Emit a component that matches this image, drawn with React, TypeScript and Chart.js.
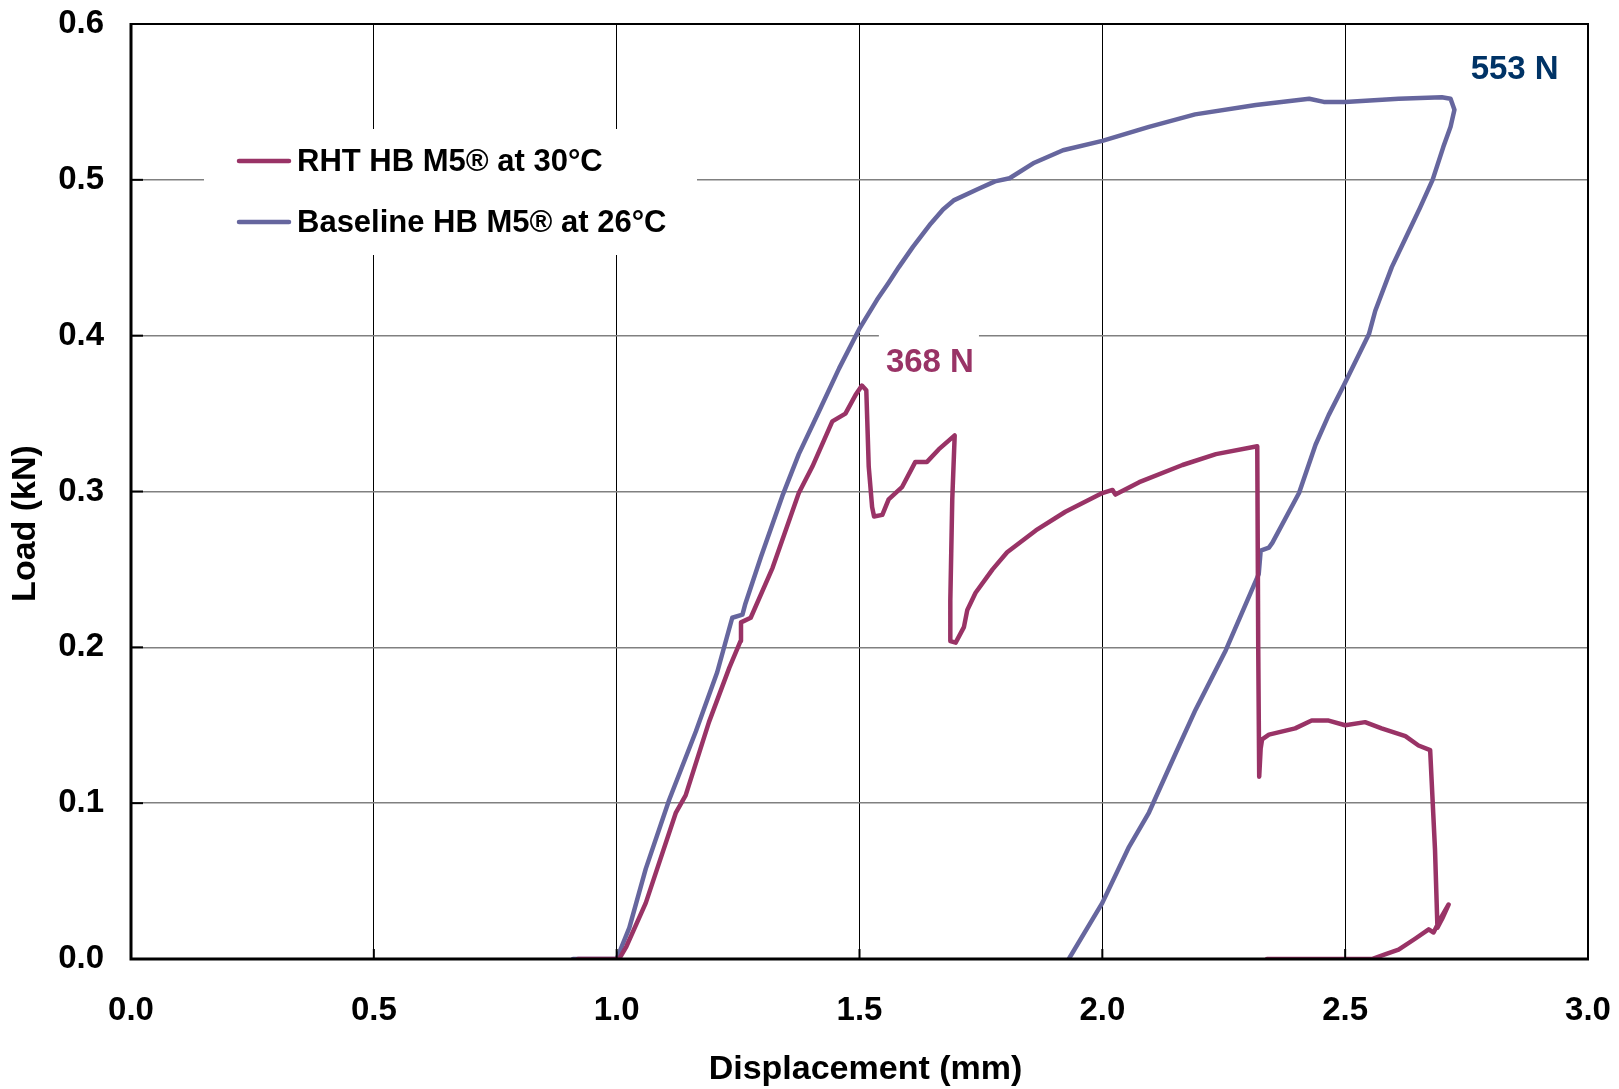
import React, { useEffect, useRef } from "react";
import { Chart, registerables } from "chart.js";

Chart.register(...registerables);

// ---- Data ----
const seriesLabels = ["RHT HB M5\u00AE at 30\u00B0C", "Baseline HB M5\u00AE at 26\u00B0C"];
const seriesColors = ["#993366", "#66669E"];

const rhtX = [0.92, 1.005, 1.02, 1.06, 1.122, 1.142, 1.19, 1.232, 1.255, 1.256, 1.276, 1.321, 1.375, 1.403, 1.444, 1.471, 1.492, 1.505, 1.514, 1.519, 1.526, 1.530, 1.547, 1.560, 1.588, 1.615, 1.639, 1.663, 1.696, 1.691, 1.687, 1.687, 1.698, 1.715, 1.722, 1.739, 1.774, 1.804, 1.863, 1.924, 2.0, 2.021, 2.027, 2.076, 2.165, 2.234, 2.319, 2.321, 2.323, 2.326, 2.329, 2.343, 2.397, 2.431, 2.466, 2.5, 2.541, 2.575, 2.624, 2.651, 2.675, 2.685, 2.690, 2.700, 2.713, 2.700, 2.682, 2.672, 2.644, 2.610, 2.582, 2.555, 2.339];
const rhtY = [0, 0, 0.008, 0.036, 0.094, 0.105, 0.152, 0.187, 0.204, 0.216, 0.219, 0.251, 0.299, 0.316, 0.345, 0.350, 0.362, 0.368, 0.365, 0.316, 0.290, 0.284, 0.285, 0.295, 0.303, 0.319, 0.319, 0.327, 0.336, 0.295, 0.230, 0.204, 0.203, 0.213, 0.224, 0.235, 0.250, 0.261, 0.275, 0.287, 0.299, 0.301, 0.298, 0.306, 0.317, 0.324, 0.329, 0.200, 0.117, 0.135, 0.141, 0.144, 0.148, 0.153, 0.153, 0.150, 0.152, 0.148, 0.143, 0.137, 0.134, 0.070, 0.020, 0.026, 0.035, 0.028, 0.017, 0.019, 0.013, 0.006, 0.003, 0, 0];

const baseX = [0.91, 1.0, 1.026, 1.06, 1.108, 1.163, 1.207, 1.238, 1.259, 1.265, 1.297, 1.341, 1.375, 1.416, 1.458, 1.499, 1.536, 1.560, 1.581, 1.610, 1.647, 1.672, 1.695, 1.743, 1.779, 1.809, 1.860, 1.919, 2.0, 2.096, 2.191, 2.316, 2.426, 2.456, 2.5, 2.610, 2.699, 2.717, 2.725, 2.717, 2.702, 2.680, 2.654, 2.625, 2.596, 2.562, 2.549, 2.497, 2.466, 2.439, 2.405, 2.350, 2.343, 2.326, 2.322, 2.254, 2.192, 2.151, 2.096, 2.055, 2.0, 1.931];
const baseY = [0, 0, 0.020, 0.058, 0.102, 0.146, 0.184, 0.219, 0.221, 0.228, 0.258, 0.297, 0.324, 0.351, 0.379, 0.404, 0.423, 0.434, 0.444, 0.457, 0.472, 0.481, 0.487, 0.494, 0.499, 0.501, 0.511, 0.519, 0.525, 0.534, 0.542, 0.548, 0.552, 0.550, 0.550, 0.552, 0.553, 0.552, 0.545, 0.534, 0.521, 0.500, 0.482, 0.463, 0.444, 0.416, 0.401, 0.368, 0.349, 0.330, 0.299, 0.267, 0.264, 0.262, 0.247, 0.198, 0.160, 0.132, 0.094, 0.072, 0.036, 0];

const annotationTexts = ["368 N", "553 N"];
const annotationX = [1.645, 2.849];
const annotationY = [0.383, 0.571];
const annotationColors = ["#993366", "#003366"];

const xTickValues = [0, 0.5, 1.0, 1.5, 2.0, 2.5, 3.0];
const yTickValues = [0, 0.1, 0.2, 0.3, 0.4, 0.5, 0.6];
const xTitle = "Displacement (mm)";
const yTitle = "Load (kN)";

const FONT = "'Liberation Sans', Arial, Helvetica, sans-serif";

const toPoints = (xs: number[], ys: number[]) => xs.map((x, i) => ({ x, y: ys[i] }));

const decorPlugin = {
  id: "decor",
  beforeDraw(chart: any) {
    const ctx = chart.ctx;
    ctx.save();
    ctx.fillStyle = "#ffffff";
    ctx.fillRect(0, 0, chart.width, chart.height);
    ctx.restore();
  },
  afterDatasetsDraw(chart: any) {
    const ctx = chart.ctx;
    const { left, right, top, bottom } = chart.chartArea;
    const xs = chart.scales.x;
    const ys = chart.scales.y;
    ctx.save();

    // Legend box
    const lx = left + 73;
    const ly = top + 105;
    ctx.fillStyle = "#ffffff";
    ctx.fillRect(lx, ly, 493, 126);
    chart.data.datasets.forEach((ds: any, i: number) => {
      const yy = ly + 32 + i * 61;
      ctx.strokeStyle = ds.borderColor;
      ctx.lineWidth = 4.5;
      ctx.lineCap = "round";
      ctx.beginPath();
      ctx.moveTo(lx + 35, yy);
      ctx.lineTo(lx + 85, yy);
      ctx.stroke();
      ctx.fillStyle = "#000000";
      ctx.font = `bold 31px ${FONT}`;
      ctx.textAlign = "left";
      ctx.textBaseline = "middle";
      ctx.fillText(ds.label, lx + 93, yy + 1);
    });

    // Annotations
    annotationTexts.forEach((t, i) => {
      const px = xs.getPixelForValue(annotationX[i]);
      const py = ys.getPixelForValue(annotationY[i]);
      ctx.font = `bold 33px ${FONT}`;
      const w = ctx.measureText(t).width;
      ctx.fillStyle = "#ffffff";
      ctx.fillRect(px - w / 2 - 7, py - 32, w + 12, 64);
      ctx.fillStyle = annotationColors[i];
      ctx.textAlign = "center";
      ctx.textBaseline = "middle";
      ctx.fillText(t, px, py + 1);
    });

    // Inner tick marks
    ctx.strokeStyle = "#000000";
    ctx.lineCap = "butt";
    ctx.lineWidth = 2;
    yTickValues.forEach((v) => {
      const py = ys.getPixelForValue(v);
      ctx.beginPath();
      ctx.moveTo(left, py);
      ctx.lineTo(left + 12, py);
      ctx.stroke();
    });
    xTickValues.forEach((v) => {
      const px = xs.getPixelForValue(v);
      ctx.beginPath();
      ctx.moveTo(px, bottom);
      ctx.lineTo(px, bottom - 10);
      ctx.stroke();
    });

    // Frame
    ctx.lineWidth = 2;
    ctx.beginPath();
    ctx.moveTo(left, top);
    ctx.lineTo(right, top);
    ctx.lineTo(right, bottom);
    ctx.stroke();
    ctx.lineWidth = 3;
    ctx.beginPath();
    ctx.moveTo(left, top - 1);
    ctx.lineTo(left, bottom);
    ctx.lineTo(right + 1, bottom);
    ctx.stroke();

    // Axis titles
    ctx.fillStyle = "#000000";
    ctx.font = `bold 34px ${FONT}`;
    ctx.textAlign = "center";
    ctx.textBaseline = "middle";
    ctx.fillText(xTitle, (left + right) / 2 + 6, bottom + 111);
    ctx.translate(left - 105, (top + bottom) / 2 + 32);
    ctx.rotate(-Math.PI / 2);
    ctx.fillText(yTitle, 0, 0);
    ctx.restore();
  },
};

export default function App() {
  const canvasRef = useRef<HTMLCanvasElement | null>(null);

  useEffect(() => {
    if (!canvasRef.current) return;
    const chart = new Chart(canvasRef.current, {
      type: "scatter",
      data: {
        datasets: [
          {
            label: seriesLabels[0],
            data: toPoints(rhtX, rhtY),
            showLine: true,
            borderColor: seriesColors[0],
            backgroundColor: seriesColors[0],
            borderWidth: 4.5,
            pointRadius: 0,
            tension: 0,
            borderJoinStyle: "round",
            borderCapStyle: "round",
          },
          {
            label: seriesLabels[1],
            data: toPoints(baseX, baseY),
            showLine: true,
            borderColor: seriesColors[1],
            backgroundColor: seriesColors[1],
            borderWidth: 4.5,
            pointRadius: 0,
            tension: 0,
            borderJoinStyle: "round",
            borderCapStyle: "round",
          },
        ],
      },
      options: {
        animation: false,
        responsive: false,
        devicePixelRatio: 1,
        layout: { padding: { left: 0, top: 24, right: 31, bottom: 0 } },
        plugins: {
          legend: { display: false },
          tooltip: { enabled: false },
        },
        scales: {
          x: {
            type: "linear",
            min: 0,
            max: 3,
            afterBuildTicks: (scale: any) => {
              scale.ticks = xTickValues.map((v) => ({ value: v }));
            },
            afterFit: (scale: any) => {
              scale.height = 130;
              scale.paddingLeft = 0;
              scale.paddingRight = 0;
              scale.paddingTop = 0;
              scale.paddingBottom = 0;
            },
            ticks: {
              color: "#000000",
              padding: 32,
              font: { family: FONT, size: 33, weight: "bold" },
              callback: (v: any) => Number(v).toFixed(1),
            },
            grid: { color: "#000000", lineWidth: 1, drawTicks: false },
            border: { display: false },
          },
          y: {
            type: "linear",
            min: 0,
            max: 0.6,
            afterBuildTicks: (scale: any) => {
              scale.ticks = yTickValues.map((v) => ({ value: v }));
            },
            afterFit: (scale: any) => {
              scale.width = 131;
              scale.paddingLeft = 0;
              scale.paddingRight = 0;
              scale.paddingTop = 0;
              scale.paddingBottom = 0;
            },
            ticks: {
              color: "#000000",
              padding: 27,
              font: { family: FONT, size: 33, weight: "bold" },
              callback: (v: any) => Number(v).toFixed(1),
            },
            grid: { color: "#808080", lineWidth: 1.5, drawTicks: false },
            border: { display: false },
          },
        },
      },
      plugins: [decorPlugin],
    } as any);
    return () => chart.destroy();
  }, []);

  return (
    <div style={{ position: "absolute", left: 0, top: 0, width: 1619, height: 1089, background: "#fff" }}>
      <canvas ref={canvasRef} width={1619} height={1089} style={{ display: "block", width: 1619, height: 1089 }} />
    </div>
  );
}
